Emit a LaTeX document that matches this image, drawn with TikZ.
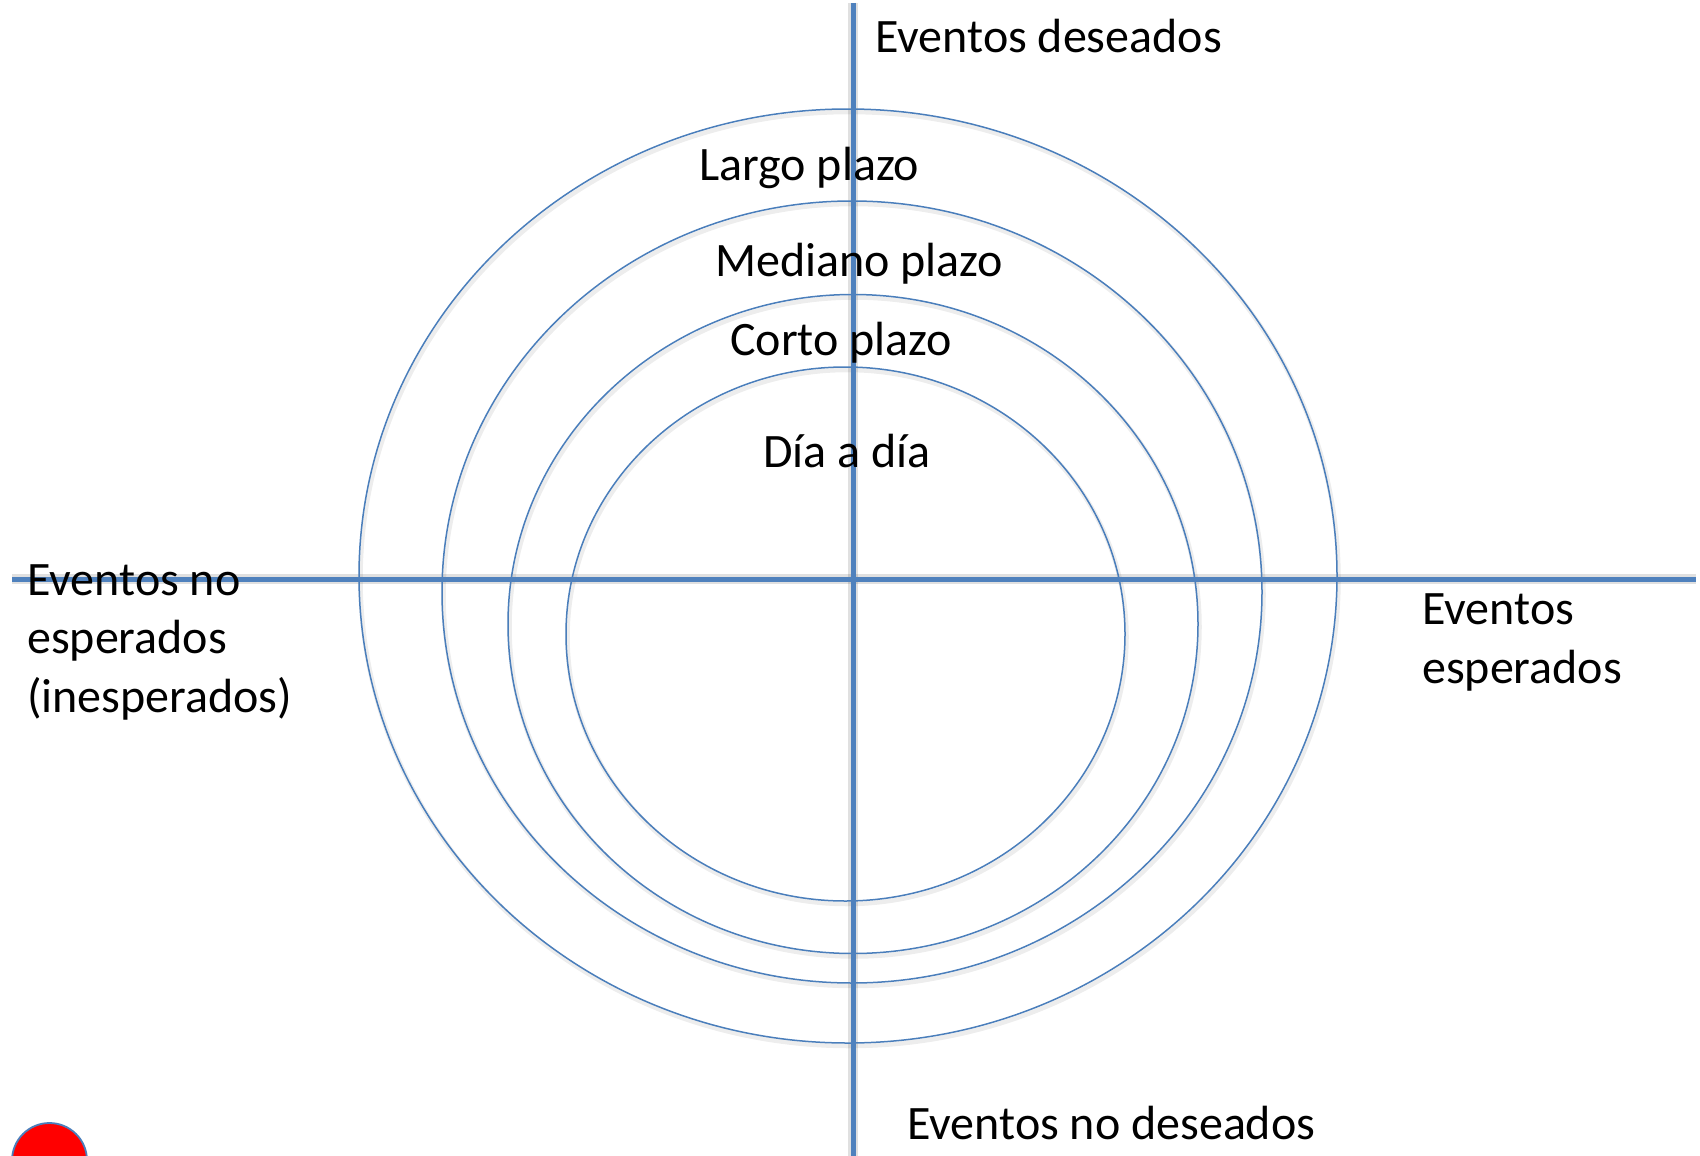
\documentclass[tikz,border=0pt]{standalone}
\usepackage{fontspec}
\setmainfont{Carlito}
\definecolor{axisblue}{HTML}{4F81BD}
\definecolor{rimblue}{HTML}{4A7EBB}
\begin{document}
\begin{tikzpicture}[x=1pt,y=-1pt,
  axisline/.style={draw=axisblue,line width=5pt},
  axisshadow/.style={draw=black,draw opacity=0.12,line width=10pt},
  ring/.style={draw=rimblue,line width=1.5pt},
  ringshadow/.style={draw=black,draw opacity=0.07,line width=4.5pt},
  lbl/.style={inner sep=0pt,anchor=base west,align=left,font=\fontsize{48}{58.5}\selectfont}]
\useasboundingbox (0,0) rectangle (1700,1156);
% named ends of the axes
\coordinate (hl) at (12,579);
\coordinate (hr) at (1696,579);
\coordinate (vt) at (853,3);
\coordinate (vb) at (853,1160);
% shadows
\begin{scope}[shift={(1.5,3)}]
  \draw[ringshadow] (848,576) ellipse [x radius=489,y radius=467];
  \draw[ringshadow] (852,592) ellipse [x radius=410,y radius=391];
  \draw[ringshadow] (853,624) ellipse [x radius=345,y radius=329.5];
  \draw[ringshadow] (845.5,634) ellipse [x radius=279.5,y radius=267];
  \draw[axisshadow] (hl) -- (hr);
  \draw[axisshadow] (vt) -- (vb);
\end{scope}
% rings
\draw[ring] (848,576) ellipse [x radius=489,y radius=467];
\draw[ring] (852,592) ellipse [x radius=410,y radius=391];
\draw[ring] (853,624) ellipse [x radius=345,y radius=329.5];
\draw[ring] (845.5,634) ellipse [x radius=279.5,y radius=267];
% axes
\draw[axisline] (hl) -- (hr);
\draw[axisline] (vt) -- (vb);
% red dot
\draw[fill=red,draw=rimblue,line width=1.8pt] (49.5,1160.5) circle [radius=37.5];
% labels
\node[lbl] (des) at (875,53) {Eventos deseados};
\node[lbl] (nodes) at (907,1139) {Eventos no deseados};
\node[lbl] (noesp) at (27,712) {Eventos no\\esperados\\(inesperados)};
\node[lbl] (esp) at (1422,683) {Eventos\\esperados};
\node[lbl] (largo) at (699,180) {Largo plazo};
\node[lbl] (mediano) at (715,276) {Mediano plazo};
\node[lbl] (corto) at (730,355) {Corto plazo};
\node[lbl] (dia) at (763,467) {Día a día};
\end{tikzpicture}
\end{document}
